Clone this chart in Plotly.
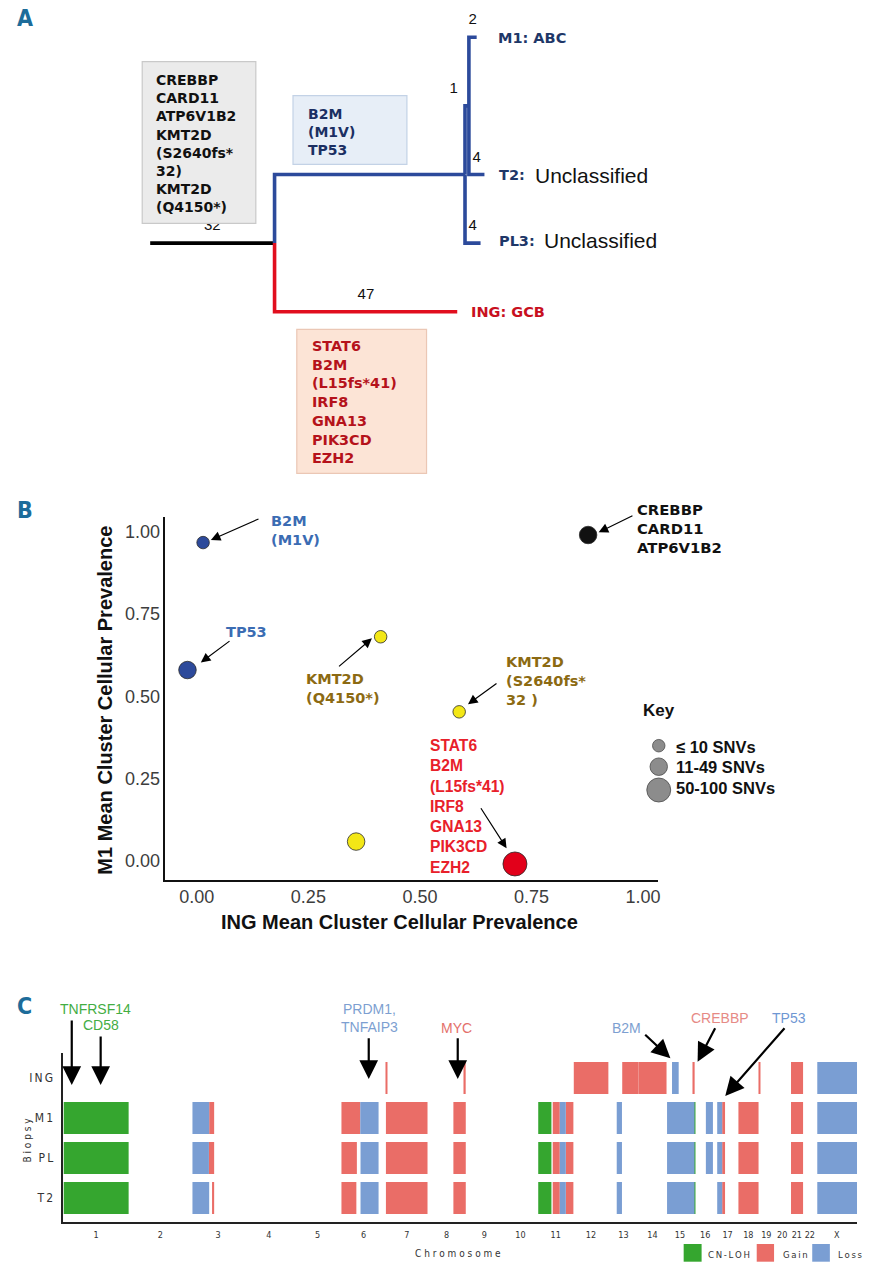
import plotly.graph_objects as go

W, H = 881, 1280
def px(x): return x / W
def py(y): return 1 - y / H

NARROW = "'Liberation Sans Narrow', 'DejaVu Sans Condensed', 'Roboto Condensed', 'Liberation Sans', sans-serif"
thin = "\u2009"

# ---------------- Panel A: phylogenetic tree data ----------------
tree_nodes  = ["origin", "root", "blue", "inner", "M1", "T2", "PL3", "ING"]
tree_parent = [None, "origin", "root", "blue", "inner", "inner", "blue", "root"]
tree_length = [0, 32, 49, 1, 2, 4, 4, 47]          # mutations per branch
tree_label  = ["", "32", "", "1", "2", "4", "4", "47"]
tree_group  = ["trunk", "trunk", "blue", "blue", "blue", "blue", "blue", "red"]
leaf_row    = {"M1": 0, "T2": 2, "PL3": 3, "ING": 4}

trunk_genes = ["CREBBP", "CARD11", "ATP6V1B2", "KMT2D", "(S2640fs*", "32)", "KMT2D", "(Q4150*)"]
m_genes     = ["B2M", "(M1V)", "TP53"]
ing_genes   = ["STAT6", "B2M", "(L15fs*41)", "IRF8", "GNA13", "PIK3CD", "EZH2"]

# ---------------- Panel B: cluster prevalence data ----------------
cluster_name  = ["B2M (M1V)", "TP53", "CREBBP", "KMT2D (Q4150*)", "KMT2D (S2640fs*32)", "unlabelled", "STAT6 etc"]
ing_ccp       = [0.014, -0.021, 0.877, 0.412, 0.588, 0.357, 0.713]
m1_ccp        = [0.967, 0.580, 0.990, 0.681, 0.453, 0.059, -0.009]
size_class    = ["≤ 10 SNVs", "11-49 SNVs", "11-49 SNVs", "≤ 10 SNVs", "≤ 10 SNVs", "11-49 SNVs", "50-100 SNVs"]
cluster_color = ["#2d4a9b", "#2d4a9b", "#111111", "#f3e716", "#f3e716", "#f3e716", "#e2001a"]
key_classes   = ["≤ 10 SNVs", "11-49 SNVs", "50-100 SNVs"]
key_size_px   = [12.5, 17.5, 24]
x_ticks_b     = [0, 0.25, 0.5, 0.75, 1.0]
x_ticktext_b  = ["0.00", "0.25", "0.50", "0.75", "1.00"]

# ---------------- Panel C: copy-number data ----------------
chrom_names = ["1", "2", "3", "4", "5", "6", "7", "8", "9", "10", "11", "12",
               "13", "14", "15", "16", "17", "18", "19", "20", "21", "22", "X"]
chrom_len_mb = [249.25, 243.2, 198.02, 191.15, 180.92, 171.12, 159.14, 146.36, 141.21,
                135.53, 135.01, 133.85, 115.17, 107.35, 102.53, 90.35, 81.2, 78.08,
                59.13, 63.03, 48.13, 51.3, 155.27]
biopsies = ["ING", "M1", "PL", "T2"]

cnv_ING = [("7", 1, 6, "Gain"), ("8", 141, 146, "Gain"), ("12", 1.5, 133.85, "Gain"),
           ("13", 53, 115.17, "Gain"), ("14", 0, 107.35, "Gain"), ("15", 21, 46.5, "Loss"),
           ("16", 0.5, 5, "Gain"), ("19", 2, 6, "Gain"), ("21", 2, 48.1, "Gain"),
           ("X", 3, 155.27, "Loss")]
cnv_M1 = [("1", 0, 249.25, "CN-LOH"), ("3", 1, 65, "Loss"), ("3", 65, 84, "Gain"),
          ("6", 1, 73, "Gain"), ("6", 73, 143, "Loss"), ("7", 0, 159.14, "Gain"),
          ("8", 99, 146.36, "Gain"), ("11", 0.5, 51, "CN-LOH"), ("11", 56, 83, "Gain"),
          ("11", 83, 106, "Loss"), ("11", 106, 135, "Gain"), ("13", 32, 52, "Loss"),
          ("15", 2, 102.53, "Loss"), ("16", 0, 2.5, "Loss"), ("16", 2.5, 5.5, "CN-LOH"),
          ("16", 48, 75, "Loss"), ("17", 1, 20, "Loss"), ("17", 20, 31, "Gain"),
          ("18", 1, 78, "Gain"), ("21", 2, 48.1, "Gain"), ("X", 3, 155.27, "Loss")]
cnv_PL = [("1", 0, 249.25, "CN-LOH"), ("3", 1, 64, "Loss"), ("3", 64, 84, "Gain"),
          ("6", 1, 60, "Gain"), ("6", 74, 143, "Loss"), ("7", 0, 159.14, "Gain"),
          ("8", 99, 146.36, "Gain"), ("11", 0.5, 51, "CN-LOH"), ("11", 56, 83, "Gain"),
          ("11", 83, 106, "Loss"), ("11", 106, 135, "Gain"), ("13", 32, 52, "Loss"),
          ("15", 2, 102.53, "Loss"), ("16", 0, 2.5, "Loss"), ("16", 2.5, 5.5, "CN-LOH"),
          ("16", 48, 75, "Loss"), ("17", 1, 20, "Loss"), ("17", 20, 31, "Gain"),
          ("18", 1, 78, "Gain"), ("21", 2, 48.1, "Gain"), ("X", 3, 155.27, "Loss")]
cnv_T2 = [("1", 0, 249.25, "CN-LOH"), ("3", 1, 65, "Loss"), ("3", 76, 84, "Gain"),
          ("6", 1, 58, "Gain"), ("6", 74, 143, "Loss"), ("7", 0, 159.14, "Gain"),
          ("8", 99, 146.36, "Gain"), ("11", 0.5, 51, "CN-LOH"), ("11", 56, 83, "Gain"),
          ("11", 83, 106, "Loss"), ("11", 106, 135, "Gain"), ("13", 32, 52, "Loss"),
          ("15", 2, 102.53, "Loss"), ("16", 0, 2.5, "Loss"), ("16", 2.5, 5.5, "CN-LOH"),
          ("17", 1, 20, "Loss"), ("17", 20, 31, "Gain"),
          ("18", 1, 78, "Gain"), ("21", 2, 48.1, "Gain"), ("X", 3, 155.27, "Loss")]
cnv_types  = ["CN-LOH", "Gain", "Loss"]
cnv_colors = {"CN-LOH": "#35a62f", "Gain": "#ea6d67", "Loss": "#7a9ed3"}

fig = go.Figure()
ann = []
shapes = []

def text(x, y, s, size, color, family="Liberation Sans", weight="normal",
         xanchor="left", yanchor="middle", align="left", angle=0):
    ann.append(dict(x=px(x), y=py(y), xref="paper", yref="paper", text=s, showarrow=False,
                    font=dict(family=family, size=size, color=color, weight=weight),
                    xanchor=xanchor, yanchor=yanchor, align=align, textangle=angle))

def arrow(tx, ty, hx, hy, width, size, head=2):
    ann.append(dict(x=px(hx), y=py(hy), xref="paper", yref="paper", ax=tx - hx, ay=ty - hy,
                    axref="pixel", ayref="pixel", text="", showarrow=True, arrowhead=head,
                    arrowsize=size, arrowwidth=width, arrowcolor="#000000", standoff=0))

# ================= Panel A =================
parent = dict(zip(tree_nodes, tree_parent))
blen = dict(zip(tree_nodes, tree_length))
children = {n: [c for c in tree_nodes if parent[c] == n] for n in tree_nodes}
xpos = {}
for n in tree_nodes:
    xpos[n] = (xpos[parent[n]] if parent[n] else 0) + blen[n]
def ypos(n):
    if n in leaf_row:
        return leaf_row[n]
    return sum(ypos(c) for c in children[n]) / len(children[n])

group_color = {"trunk": "#000000", "blue": "#2c4a9b", "red": "#e10e1e"}
for g, col in group_color.items():
    xs, ys = [], []
    for n, p, gg in zip(tree_nodes, tree_parent, tree_group):
        if p is None or gg != g:
            continue
        xs += [xpos[p], xpos[p], xpos[n], None]
        ys += [ypos(p), ypos(n), ypos(n), None]
    fig.add_trace(go.Scatter(x=xs, y=ys, mode="lines", line=dict(color=col, width=3.6),
                             xaxis="x3", yaxis="y3", hoverinfo="skip"))
lx, ly, lt, lpos = [], [], [], []
for n, p, lab in zip(tree_nodes, tree_parent, tree_label):
    if p is None or not lab:
        continue
    lx.append((xpos[p] + xpos[n]) / 2)
    ly.append(ypos(n))
    lt.append(lab)
    lpos.append("top left" if blen[n] < 2 else "top center")
fig.add_trace(go.Scatter(x=lx, y=ly, text=lt, mode="markers+text", textposition=lpos,
                         marker=dict(size=13, color="rgba(0,0,0,0)"),
                         textfont=dict(family="Liberation Sans", size=15, color="#111111"),
                         xaxis="x3", yaxis="y3", hoverinfo="skip", cliponaxis=False))

# boxes (above traces so the gray box overlaps the "32" label)
def box(x0, y0, x1, y1, fill, line):
    shapes.append(dict(type="rect", xref="paper", yref="paper", x0=px(x0), x1=px(x1),
                       y0=py(y1), y1=py(y0), fillcolor=fill, line=dict(color=line, width=1.2),
                       layer="above"))
box(142.7, 61.7, 256.7, 223.3, "#ebebeb", "#c9c9c9")
box(294, 95.7, 408.3, 164.3, "#e7eef7", "#c3d2e6")
box(297.8, 329.3, 428, 473.3, "#fce4d6", "#ebc7b5")
text(155, 143.4, "<br>".join(trunk_genes), 14, "#111111", family="DejaVu Sans", weight="bold")
text(306.7, 131.7, "<br>".join(m_genes), 14, "#1b2f63", family="DejaVu Sans", weight="bold")
text(310.7, 402.2, "<br>".join(ing_genes), 14.4, "#b5121b", family="DejaVu Sans", weight="bold")

# leaf labels
text(497.5, 38, "M1: ABC", 14.5, "#1e3768", family="DejaVu Sans", weight="bold")
text(499, 175, "T2:", 14.5, "#1e3768", family="DejaVu Sans", weight="bold")
text(535, 175, "Unclassified", 21, "#111111")
text(499, 241, "PL3:", 14.5, "#1e3768", family="DejaVu Sans", weight="bold")
text(544, 241, "Unclassified", 21, "#111111")
text(471, 312, "ING: GCB", 14.5, "#c8101e", family="DejaVu Sans", weight="bold")

# panel letters
for lab, yy in [("A", 18), ("B", 510), ("C", 1006)]:
    text(25, yy, lab, 23, "#1d6c9a", family=NARROW, weight="bold", xanchor="center")

# ================= Panel B =================
fig.add_trace(go.Scatter(
    x=ing_ccp, y=m1_ccp, mode="markers", xaxis="x", yaxis="y", cliponaxis=False,
    marker=dict(size=[key_size_px[key_classes.index(c)] for c in size_class], color=cluster_color,
                opacity=1, line=dict(color="#2a2a2a", width=0.8)),
    hovertext=cluster_name, hoverinfo="text"))

bx0, bx1, by0, by1 = 166, 660, 880, 516.7
xr = [-0.0704, 1.0331]
yr = [-0.0577, 1.0456]

# size key (legend): circles drawn with the same pixel diameters as the markers
for d, cy in zip(key_size_px, [745.7, 766.7, 790]):
    cx = 661
    shapes.append(dict(type="circle", xref="paper", yref="paper",
                       x0=px(cx - d / 2), x1=px(cx + d / 2), y0=py(cy + d / 2), y1=py(cy - d / 2),
                       fillcolor="#8c8c8c", line=dict(color="#4a4a4a", width=0.8)))
text(643.3, 710, "Key", 17, "#111111", weight="bold")
for kc, yy in zip(key_classes, [746.7, 766.7, 788.3]):
    text(676.5, yy, kc, 16.5, "#111111", weight="bold")

text(269.6, 530.9, "B2M<br>(M1V)", 14.5, "#3b6cb3", family="DejaVu Sans", weight="bold")
text(225, 631.7, "TP53", 14.5, "#3b6cb3", family="DejaVu Sans", weight="bold")
text(637.3, 528.3, "CREBBP<br>CARD11<br>ATP6V1B2", 14.8, "#111111", family="DejaVu Sans", weight="bold")
text(305.4, 688.3, "KMT2D<br>(Q4150*)", 14.5, "#8c6a12", family="DejaVu Sans", weight="bold")
text(506, 681, "KMT2D<br>(S2640fs*<br>32 )", 14.5, "#8c6a12", family="DejaVu Sans", weight="bold")
text(429.5, 806.3, "<br>".join(ing_genes), 15.6, "#e8202a", weight="bold")

arrow(260.7, 518.3, 211.6, 540, 1.2, 1.6)
arrow(231.7, 640, 201.5, 662.5, 1.2, 1.6)
arrow(636, 515, 600.7, 532.3, 1.2, 1.6)
arrow(338.8, 667.7, 373.2, 638.3, 1.2, 1.6)
arrow(499.6, 682.3, 469.6, 704.3, 1.2, 1.6)
arrow(481.7, 806.7, 508.3, 848.3, 1.2, 1.6)

text(400.5, 921.7, "ING Mean Cluster Cellular Prevalence", 20, "#111111", weight="bold", xanchor="center")
text(105, 700, "M1 Mean Cluster Cellular Prevalence", 20, "#111111", weight="bold",
     xanchor="center", angle=-90)

# ================= Panel C =================
chrom_start = {}
acc = 0.0
for c, L in zip(chrom_names, chrom_len_mb):
    chrom_start[c] = acc
    acc += L
genome_len = acc
chrom_mid = [chrom_start[c] + L / 2 for c, L in zip(chrom_names, chrom_len_mb)]

cnv_by_sample = {"ING": cnv_ING, "M1": cnv_M1, "PL": cnv_PL, "T2": cnv_T2}
for t in cnv_types:
    ys, xs, bs = [], [], []
    for i, s in enumerate(biopsies):
        for (c, a, b, tt) in cnv_by_sample[s]:
            if tt != t:
                continue
            ys.append(i)
            bs.append(chrom_start[c] + a)
            xs.append(b - a)
    fig.add_trace(go.Bar(y=ys, x=xs, base=bs, orientation="h", width=0.8,
                         marker=dict(color=cnv_colors[t], line=dict(width=0)),
                         xaxis="x2", yaxis="y2", hoverinfo="skip"))

# legend swatches
for t, x0, x1, lx_ in [("CN-LOH", 686, 704, 708), ("Gain", 759.3, 776.7, 784), ("Loss", 815, 832.7, 839)]:
    shapes.append(dict(type="rect", xref="paper", yref="paper", x0=px(x0), x1=px(x1),
                       y0=py(1261.7), y1=py(1244), fillcolor=cnv_colors[t], line=dict(width=0)))
    text(lx_, 1254, thin.join(t), 9.5, "#333333", family=NARROW, xanchor="left")

text(460, 1253, "C h r o m o s o m e", 10, "#333333", family=NARROW, xanchor="center")
text(26.7, 1140, "B i o p s y", 10, "#333333", family=NARROW, xanchor="center", angle=-90)

# gene labels + arrows
text(96, 1009.3, "TNFRSF14", 14, "#43ad43", xanchor="center")
text(101, 1025, "CD58", 14, "#43ad43", xanchor="center")
text(371, 1018, "PRDM1,<br>TNFAIP3", 14, "#7d9fd1", xanchor="center", align="center")
text(458.3, 1028.3, "MYC", 14, "#e4706b", xanchor="center")
text(628.3, 1028.3, "B2M", 14, "#7d9fd1", xanchor="center")
text(722.7, 1018.3, "CREBBP", 14, "#e68a85", xanchor="center")
text(791.7, 1018.3, "TP53", 14, "#6f97d3", xanchor="center")
arrow(72, 1019, 72, 1085, 2.2, 1.7)
arrow(101, 1035, 101, 1085, 2.2, 1.7)
arrow(370, 1036.7, 370, 1079, 2.2, 1.7)
arrow(459.3, 1036.7, 459.3, 1079, 2.2, 1.7)
arrow(646, 1033.3, 672.7, 1058.3, 2.2, 1.7)
arrow(718.3, 1026.7, 700, 1061.7, 2.2, 1.7)
arrow(788.3, 1026.7, 727.7, 1096, 2.2, 1.7)

fig.update_layout(
    width=W, height=H, margin=dict(l=0, r=0, t=0, b=0),
    paper_bgcolor="white", plot_bgcolor="rgba(0,0,0,0)",
    showlegend=False, barmode="overlay",
    annotations=ann, shapes=shapes,
    # panel B
    xaxis=dict(domain=[px(bx0), px(bx1)], range=xr, showline=True, linecolor="#111111",
               linewidth=1.6, ticks="", tickvals=x_ticks_b, ticktext=x_ticktext_b,
               tickfont=dict(family="Liberation Sans", size=18, color="#3d3d3d"),
               showgrid=False, zeroline=False, anchor="y", fixedrange=True),
    yaxis=dict(domain=[py(by0), py(by1)], range=yr, showline=True, linecolor="#111111",
               linewidth=1.6, ticks="", tickvals=x_ticks_b, ticktext=x_ticktext_b,
               tickfont=dict(family="Liberation Sans", size=18, color="#3d3d3d"),
               showgrid=False, zeroline=False, anchor="x", fixedrange=True),
    # panel C
    xaxis2=dict(domain=[px(63.7), px(860)], range=[0, genome_len], showline=True,
                linecolor="#222222", linewidth=1.8, ticks="", tickvals=chrom_mid,
                ticktext=chrom_names, tickangle=0,
                tickfont=dict(family=NARROW, size=9, color="#333333"),
                showgrid=False, zeroline=False, anchor="y2", ticklabelstandoff=4, fixedrange=True),
    yaxis2=dict(domain=[py(1221.7), py(1053)], range=[3.5925, -0.625], showline=True,
                linecolor="#222222", linewidth=1.8, ticks="", tickvals=list(range(len(biopsies))),
                ticktext=[thin.join(b) for b in biopsies],
                tickfont=dict(family=NARROW, size=12, color="#333333"),
                showgrid=False, zeroline=False, anchor="x2", ticklabelstandoff=6, fixedrange=True),
    # panel A
    xaxis3=dict(domain=[0, 1], range=[-150.7 / 3.9, (881 - 150.7) / 3.9], visible=False,
                anchor="y3", fixedrange=True),
    yaxis3=dict(domain=[py(480), 1], range=[(480 - 37.3) / 68.6, -37.3 / 68.6], visible=False,
                anchor="x3", fixedrange=True),
)
fig.write_html("out.html", config={"displayModeBar": False},
               post_script="document.body.style.margin='0';document.body.style.overflow='hidden';")
